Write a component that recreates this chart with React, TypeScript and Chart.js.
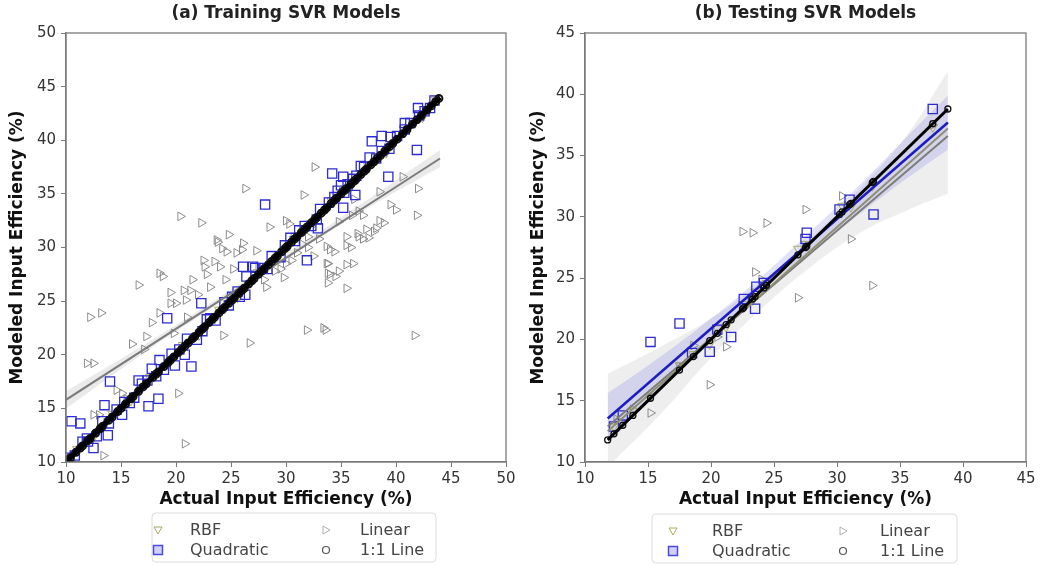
import React, { useEffect, useRef } from "react";
import { Chart, registerables } from "chart.js";
Chart.register(...registerables);

// ---------------- DATA: (a) Training ----------------
const trainXTicks = [10, 15, 20, 25, 30, 35, 40, 45, 50];
const trainYTicks = [10, 15, 20, 25, 30, 35, 40, 45, 50];

const trainLinear: [number, number][] = [
  [11.9, 19.2], [12.5, 19.2], [12.2, 23.5], [13.2, 23.9], [16.6, 26.5], [18.8, 27.3], [18.5, 27.6],
  [19.5, 25.8], [19.5, 24.8], [18.5, 23.9], [17.3, 21.7], [17.1, 20.5], [20.7, 26.0], [21.3, 26.0],
  [20.9, 25.1], [20.0, 24.8], [20.4, 32.9], [22.3, 32.3], [23.7, 30.7], [24.2, 29.9], [24.6, 29.6],
  [23.8, 30.5], [26.1, 30.4], [26.0, 29.8], [22.5, 28.8], [24.0, 28.2], [22.6, 28.2], [23.5, 28.7],
  [25.5, 29.5], [27.3, 29.7], [23.1, 26.3], [22.0, 25.6], [26.3, 35.5], [31.6, 34.9], [32.6, 37.5],
  [28.5, 31.9], [30.0, 32.5], [30.3, 32.2], [14.6, 16.7], [15.1, 16.4], [15.5, 15.9], [12.5, 14.4],
  [13.0, 14.4], [21.5, 27.0], [22.8, 27.5], [19.8, 22.0], [21.0, 23.5], [24.5, 27.0], [25.2, 28.0],
  [27.0, 27.5], [27.5, 28.2], [28.2, 26.3], [24.8, 31.2], [17.8, 23.0], [16.0, 21.0],
  [40.6, 36.6], [42.0, 35.5], [41.9, 33.0], [36.0, 33.0], [36.6, 33.4], [38.0, 31.5], [38.2, 31.8],
  [36.6, 31.0], [37.0, 30.8], [37.5, 30.9], [38.5, 32.5], [38.9, 32.3], [35.5, 30.2], [35.9, 30.0],
  [34.0, 29.8], [34.4, 29.6], [33.7, 28.5], [36.1, 28.5], [34.8, 27.8], [33.7, 30.1], [35.5, 31.0],
  [36.5, 31.3], [37.3, 31.7], [35.5, 28.4], [34.0, 27.5], [34.5, 27.3], [35.5, 26.2], [31.9, 22.3],
  [33.4, 22.5], [33.6, 22.3], [24.3, 21.8], [26.7, 21.1], [41.7, 21.8], [20.2, 16.4], [20.8, 11.7],
  [13.4, 10.6], [33.8, 28.5], [33.8, 27.6], [33.8, 26.7], [29.5, 28.0], [30.5, 28.8], [31.0, 29.5],
  [32.0, 30.0], [32.5, 29.2], [33.0, 30.8], [37.0, 33.0], [39.5, 34.0], [40.0, 33.5], [36.2, 34.5],
  [38.5, 35.2], [34.8, 32.4], [29.0, 27.8], [30.0, 28.5], [28.0, 27.0], [29.8, 27.2], [32.0, 31.0],
  [31.5, 30.3],
];

const trainQuadratic: [number, number][] = [
  [42.0, 43.0], [40.8, 41.6], [39.5, 40.3], [38.7, 40.4], [37.8, 39.9], [41.9, 39.1], [39.3, 36.6],
  [34.2, 36.9], [35.2, 36.6], [36.3, 34.9], [35.2, 33.7], [28.1, 34.0], [32.9, 31.8], [31.9, 28.8],
  [26.1, 28.2], [27.0, 28.2], [14.0, 17.5], [13.5, 15.3], [17.5, 15.2], [18.4, 15.9], [15.1, 14.4],
  [10.5, 13.8], [11.3, 13.6], [13.8, 12.5], [12.5, 11.3], [12.0, 11.9], [19.2, 23.4], [16.6, 17.6],
  [17.8, 18.7], [18.5, 19.5], [19.9, 19.0], [21.4, 18.9], [20.8, 20.0], [22.3, 24.8], [25.8, 25.4],
  [26.3, 25.6], [26.4, 27.3], [27.2, 28.1],
  [10.8, 10.6], [11.5, 11.9], [12.8, 12.4], [13.3, 13.8], [14.6, 14.9], [15.8, 15.5], [16.9, 17.3],
  [18.9, 18.6], [19.6, 20.1], [21.0, 21.5], [21.9, 21.4], [22.8, 23.3], [23.6, 23.2], [24.4, 24.9],
  [25.1, 25.4], [28.7, 29.2], [29.5, 29.1], [30.4, 30.9], [31.2, 31.6], [32.3, 32.0], [33.1, 33.6],
  [33.9, 34.2], [34.7, 35.3], [35.6, 35.9], [36.4, 36.7], [37.1, 37.5], [38.2, 38.3], [40.1, 40.4],
  [41.3, 41.6], [42.6, 42.7], [43.5, 43.7], [36.8, 37.6], [35.0, 35.8], [37.6, 38.4],
  [10.3, 10.4], [11.9, 12.2], [13.9, 13.6], [15.3, 15.6], [16.2, 16.0], [17.4, 17.6], [18.2, 18.0],
  [20.3, 20.5], [22.4, 22.2], [23.1, 23.4], [24.8, 24.6], [25.6, 25.9], [27.9, 28.1], [28.3, 28.0],
  [29.9, 30.2], [30.8, 30.6], [31.7, 32.0], [32.8, 32.6], [34.4, 34.7], [35.3, 35.1], [36.1, 36.4],
  [38.7, 39.0], [39.4, 39.2], [40.8, 41.0], [42.1, 42.3], [43.1, 43.0],
];

const trainRBF: [number, number][] = [
  [11.0, 11.2], [12.4, 12.1], [14.2, 14.5], [15.9, 15.7], [17.6, 17.9], [19.3, 19.1], [20.6, 20.9],
  [22.1, 21.8], [23.9, 24.2], [25.6, 25.3], [27.4, 27.7], [29.2, 28.9], [30.8, 31.1], [32.6, 32.3],
  [34.1, 34.4], [35.8, 35.5], [37.4, 37.7], [39.1, 38.8], [40.7, 41.0], [42.4, 42.1], [43.6, 43.8],
];

const trainActual = [
  10.1, 10.4, 10.9, 11.3, 11.5, 12.0, 12.2, 12.7, 13.1, 13.3, 13.9, 14.2, 14.7, 15.0, 15.4, 15.9,
  16.1, 16.6, 17.0, 17.3, 17.9, 18.2, 18.4, 18.9, 19.3, 19.5, 19.8, 20.2, 20.5, 20.8, 21.1, 21.5,
  21.7, 22.1, 22.4, 22.6, 23.0, 23.3, 23.5, 23.9, 24.2, 24.4, 24.8, 25.1, 25.3, 25.7, 26.0, 26.2,
  26.6, 26.9, 27.1, 27.5, 27.8, 28.0, 28.4, 28.7, 29.0, 29.2, 29.6, 29.9, 30.1, 30.5, 30.8, 31.0,
  31.4, 31.7, 31.9, 32.3, 32.6, 32.8, 33.2, 33.5, 33.7, 34.1, 34.4, 34.6, 35.0, 35.3, 35.5, 35.9,
  36.2, 36.4, 36.8, 37.1, 37.3, 37.7, 38.0, 38.3, 38.6, 39.0, 39.4, 39.7, 40.1, 40.6, 41.0, 41.5,
  41.9, 42.3, 42.8, 43.2, 43.6, 43.9,
];

const trainFitX = [10, 44];
const trainLinearFit = [15.8, 38.3];
const trainQuadFit = [10.3, 43.9];
const trainRBFFit = [10.2, 43.9];
const trainOneFit = [10, 44];
const trainBandX = [10, 18, 27, 36, 44];
const trainLinearBandHi = [16.6, 21.5, 27.4, 33.5, 39.1];
const trainLinearBandLo = [15.0, 20.8, 26.8, 32.8, 37.5];

// ---------------- DATA: (b) Testing ----------------
const testXTicks = [10, 15, 20, 25, 30, 35, 40, 45];
const testYTicks = [10, 15, 20, 25, 30, 35, 40, 45];

const testLinear: [number, number][] = [
  [24.4, 29.5], [22.5, 28.8], [23.3, 28.7], [27.5, 30.6], [30.4, 31.7], [31.1, 28.2], [32.8, 24.4],
  [26.9, 23.4], [19.9, 16.3], [15.2, 14.0], [21.2, 19.4], [23.5, 25.5], [12.5, 13.5], [17.5, 17.8],
  [37.6, 37.5], [13.8, 14.3], [20.5, 20.2], [24.0, 24.9], [30.8, 30.9], [18.6, 19.5],
];
const testQuadratic: [number, number][] = [
  [37.6, 38.8], [15.2, 19.8], [17.5, 21.3], [19.9, 19.0], [21.6, 20.2], [22.6, 23.3], [23.5, 22.5],
  [23.6, 24.3], [27.6, 28.7], [27.5, 28.2], [31.0, 31.4], [32.9, 30.2], [13.0, 13.8], [24.2, 24.6],
  [20.5, 20.8], [12.3, 12.9], [30.2, 30.6], [18.5, 18.9],
];
const testRBF: [number, number][] = [
  [12.3, 12.9], [13.8, 14.2], [15.2, 15.4], [17.5, 17.9], [18.6, 18.8], [19.9, 19.6], [20.5, 20.9],
  [21.2, 21.0], [22.5, 22.9], [23.3, 23.2], [23.5, 23.9], [24.4, 24.6], [26.9, 27.4], [27.5, 27.8],
  [30.4, 30.9], [31.1, 30.8], [32.8, 32.5], [37.6, 37.3],
];
const testActual = [
  11.8, 12.3, 13.0, 13.8, 15.2, 17.5, 18.6, 19.9, 20.5, 21.2, 21.6, 22.5, 22.6, 23.3, 23.5, 24.2,
  24.4, 26.9, 27.5, 27.6, 30.2, 30.4, 31.0, 31.1, 32.8, 32.9, 37.6, 38.8,
];

const testFitX = [11.8, 38.8];
const testLinearFit = [12.9, 36.6];
const testQuadFit = [13.55, 37.7];
const testRBFFit = [12.5, 37.2];
const testOneFit = [11.8, 38.8];
const testBandX = [11.8, 16, 20, 24, 28, 32, 35.5, 38.8];
const testLinearBandHi = [17.2, 19.4, 21.7, 24.7, 28.3, 32.5, 36.6, 41.9];
const testLinearBandLo = [9.6, 13.9, 18.5, 22.5, 26.0, 28.8, 30.5, 31.9];
const testQuadBandHi = [15.6, 18.6, 21.7, 25.1, 28.9, 32.8, 36.5, 39.9];
const testQuadBandLo = [11.5, 16.0, 20.1, 23.9, 27.2, 30.4, 33.1, 35.5];

// ---------------- helpers ----------------
const FONT = "DejaVu Sans";
const pairs = (p: [number, number][]) => p.map(([x, y]) => ({ x, y }));
const zipXY = (xs: number[], ys: number[]) => xs.map((x, i) => ({ x, y: ys[i] }));

const COL = {
  linear: "#8c8c8c",
  rbf: "#a9a863",
  quad: "#2c2cd0",
  one: "#111111",
};

function lineDs(xs: number[], ys: number[], color: string, width: number) {
  return {
    data: zipXY(xs, ys),
    showLine: true,
    borderColor: color,
    borderWidth: width,
    pointRadius: 0,
    fill: false,
  };
}
function bandDs(xs: number[], hi: number[], lo: number[], color: string) {
  return [
    {
      data: zipXY(xs, hi),
      showLine: true,
      borderWidth: 0,
      borderColor: "rgba(0,0,0,0)",
      pointRadius: 0,
      backgroundColor: color,
      fill: "+1",
      tension: 0.4,
    },
    {
      data: zipXY(xs, lo),
      showLine: true,
      borderWidth: 0,
      borderColor: "rgba(0,0,0,0)",
      pointRadius: 0,
      fill: false,
      tension: 0.4,
    },
  ];
}
function pointDs(data: { x: number; y: number }[], color: string, style: string, rotation: number, radius: number, bw = 1) {
  return {
    data,
    showLine: false,
    pointStyle: style,
    rotation,
    pointRadius: radius,
    borderColor: color,
    backgroundColor: "rgba(0,0,0,0)",
    borderWidth: bw,
  };
}

type PanelCfg = {
  title: string;
  xMin: number; xMax: number; yMin: number; yMax: number;
  xTicks: number[]; yTicks: number[];
  yWidth: number; rightPad: number;
  legend: { x: number; y: number; w: number; h: number; m1: number; t1: number; m2: number; t2: number };
  datasets: any[];
};

function drawMarker(ctx: CanvasRenderingContext2D, kind: string, x: number, y: number) {
  ctx.beginPath();
  if (kind === "rbf") {
    ctx.moveTo(x - 4, y - 3);
    ctx.lineTo(x + 4, y - 3);
    ctx.lineTo(x, y + 4);
    ctx.closePath();
    ctx.strokeStyle = COL.rbf;
    ctx.lineWidth = 1;
    ctx.stroke();
  } else if (kind === "linear") {
    ctx.moveTo(x - 3, y - 4);
    ctx.lineTo(x + 4, y);
    ctx.lineTo(x - 3, y + 4);
    ctx.closePath();
    ctx.strokeStyle = "#b0b0b0";
    ctx.lineWidth = 1;
    ctx.stroke();
  } else if (kind === "quad") {
    ctx.rect(x - 4.5, y - 4.5, 9, 9);
    ctx.fillStyle = "rgba(120,120,235,0.35)";
    ctx.fill();
    ctx.strokeStyle = "#4a4ae0";
    ctx.lineWidth = 1.5;
    ctx.stroke();
  } else {
    ctx.arc(x, y, 3.5, 0, Math.PI * 2);
    ctx.strokeStyle = "#555";
    ctx.lineWidth = 1.2;
    ctx.stroke();
  }
}

function makeDecor(cfg: PanelCfg) {
  return {
    id: "decor",
    afterDraw(chart: any) {
      const { ctx, chartArea } = chart;
      const { left, right, top, bottom } = chartArea;
      ctx.save();
      // frame
      ctx.strokeStyle = "#7a7a7a";
      ctx.lineWidth = 1.3;
      ctx.strokeRect(left, top, right - left, bottom - top);
      // title
      ctx.fillStyle = "#222";
      ctx.font = `bold 17px ${FONT}`;
      ctx.textAlign = "center";
      ctx.textBaseline = "middle";
      ctx.fillText(cfg.title, (left + right) / 2, 14);
      // legend
      const L = cfg.legend;
      ctx.beginPath();
      const r = 4;
      ctx.moveTo(L.x + r, L.y);
      ctx.arcTo(L.x + L.w, L.y, L.x + L.w, L.y + L.h, r);
      ctx.arcTo(L.x + L.w, L.y + L.h, L.x, L.y + L.h, r);
      ctx.arcTo(L.x, L.y + L.h, L.x, L.y, r);
      ctx.arcTo(L.x, L.y, L.x + L.w, L.y, r);
      ctx.closePath();
      ctx.fillStyle = "rgba(255,255,255,0.9)";
      ctx.fill();
      ctx.strokeStyle = "#dcdcdc";
      ctx.lineWidth = 1;
      ctx.stroke();
      const rows = [L.y + 17, L.y + 37];
      const items = [
        { k: "rbf", label: "RBF", mx: L.m1, tx: L.t1, y: rows[0] },
        { k: "quad", label: "Quadratic", mx: L.m1, tx: L.t1, y: rows[1] },
        { k: "linear", label: "Linear", mx: L.m2, tx: L.t2, y: rows[0] },
        { k: "one", label: "1:1 Line", mx: L.m2, tx: L.t2, y: rows[1] },
      ];
      ctx.font = `16px ${FONT}`;
      ctx.textAlign = "left";
      ctx.textBaseline = "middle";
      for (const it of items) {
        drawMarker(ctx, it.k, it.mx, it.y);
        ctx.fillStyle = "#444";
        ctx.fillText(it.label, it.tx, it.y + 1);
      }
      ctx.restore();
    },
  };
}

function Panel({ cfg, left }: { cfg: PanelCfg; left: number }) {
  const ref = useRef<HTMLCanvasElement>(null);
  useEffect(() => {
    if (!ref.current) return;
    const tickFont = { family: FONT, size: 15 };
    const titleFont = { family: FONT, size: 17, weight: "bold" as const };
    const chart = new Chart(ref.current, {
      type: "scatter",
      data: { datasets: cfg.datasets },
      options: {
        responsive: false,
        animation: false,
        events: [],
        layout: { padding: { left: 0, right: cfg.rightPad, top: 33, bottom: 53 } },
        plugins: { legend: { display: false }, tooltip: { enabled: false }, title: { display: false } },
        scales: {
          x: {
            type: "linear",
            min: cfg.xMin,
            max: cfg.xMax,
            afterBuildTicks: (s: any) => { s.ticks = cfg.xTicks.map((v) => ({ value: v })); },
            afterFit: (s: any) => { s.height = 50; },
            ticks: { color: "#333", font: tickFont, padding: 3, maxRotation: 0, callback: (v: any) => String(v) },
            grid: { drawOnChartArea: false, drawTicks: true, tickLength: 5, tickColor: "#777" },
            border: { display: true, color: "#7a7a7a", width: 1.3 },
            title: { display: true, text: "Actual Input Efficiency (%)", color: "#111", font: titleFont, padding: { top: 0, bottom: 2 } },
          },
          y: {
            type: "linear",
            min: cfg.yMin,
            max: cfg.yMax,
            afterBuildTicks: (s: any) => { s.ticks = cfg.yTicks.map((v) => ({ value: v })); },
            afterFit: (s: any) => { s.width = cfg.yWidth; },
            ticks: { color: "#333", font: tickFont, padding: 5, callback: (v: any) => String(v) },
            grid: { drawOnChartArea: false, drawTicks: true, tickLength: 5, tickColor: "#777" },
            border: { display: true, color: "#7a7a7a", width: 1.3 },
            title: { display: true, text: "Modeled Input Efficiency (%)", color: "#111", font: titleFont, padding: { top: 7, bottom: 0 } },
          },
        },
      } as any,
      plugins: [makeDecor(cfg)],
    });
    return () => chart.destroy();
  }, [cfg]);
  return (
    <canvas
      ref={ref}
      width={521}
      height={565}
      style={{ position: "absolute", left, top: 0, width: 521, height: 565 }}
    />
  );
}

const trainCfg: PanelCfg = {
  title: "(a) Training SVR Models",
  xMin: 10, xMax: 50, yMin: 10, yMax: 50,
  xTicks: trainXTicks, yTicks: trainYTicks,
  yWidth: 66, rightPad: 15,
  legend: { x: 152, y: 513, w: 284, h: 49, m1: 158, t1: 190, m2: 326, t2: 360 },
  datasets: [
    lineDs(trainFitX, trainOneFit, "#000", 5),
    pointDs(trainActual.map((v) => ({ x: v, y: v })), COL.one, "circle", 0, 3.5, 2),
    lineDs(trainFitX, trainQuadFit, "#1c1cb8", 3),
    lineDs(trainFitX, trainRBFFit, "#8e8e62", 2),
    lineDs(trainFitX, trainLinearFit, "#7c7c7c", 2),
    pointDs(pairs(trainQuadratic), COL.quad, "rect", 0, 6.5, 1.3),
    pointDs(pairs(trainRBF), COL.rbf, "triangle", 180, 5, 1),
    pointDs(pairs(trainLinear), COL.linear, "triangle", 90, 5, 1),
    ...bandDs(trainBandX, trainLinearBandHi, trainLinearBandLo, "rgba(140,140,140,0.18)"),
  ],
};

const testCfg: PanelCfg = {
  title: "(b) Testing SVR Models",
  xMin: 10, xMax: 45, yMin: 10, yMax: 45,
  xTicks: testXTicks, yTicks: testYTicks,
  yWidth: 64, rightPad: 16,
  legend: { x: 131, y: 514, w: 305, h: 49, m1: 152, t1: 191, m2: 322, t2: 359 },
  datasets: [
    lineDs(testFitX, testOneFit, "#000", 3),
    pointDs(testActual.map((v) => ({ x: v, y: v })), COL.one, "circle", 0, 3, 1.3),
    lineDs(testFitX, testQuadFit, "#1c1cc0", 2.5),
    lineDs(testFitX, testRBFFit, "#8e8e70", 2),
    lineDs(testFitX, testLinearFit, "#7c7c7c", 2),
    pointDs(pairs(testQuadratic), COL.quad, "rect", 0, 6.5, 1.3),
    pointDs(pairs(testRBF), COL.rbf, "triangle", 180, 5, 1),
    pointDs(pairs(testLinear), COL.linear, "triangle", 90, 5, 1),
    ...bandDs(testBandX, testQuadBandHi, testQuadBandLo, "rgba(90,90,220,0.18)"),
    ...bandDs(testBandX, testLinearBandHi, testLinearBandLo, "rgba(150,150,150,0.16)"),
  ],
};

export default function App() {
  return (
    <div style={{ position: "absolute", left: 0, top: 0, width: 1042, height: 565, background: "#fff", overflow: "hidden" }}>
      <Panel cfg={trainCfg} left={0} />
      <Panel cfg={testCfg} left={521} />
    </div>
  );
}
